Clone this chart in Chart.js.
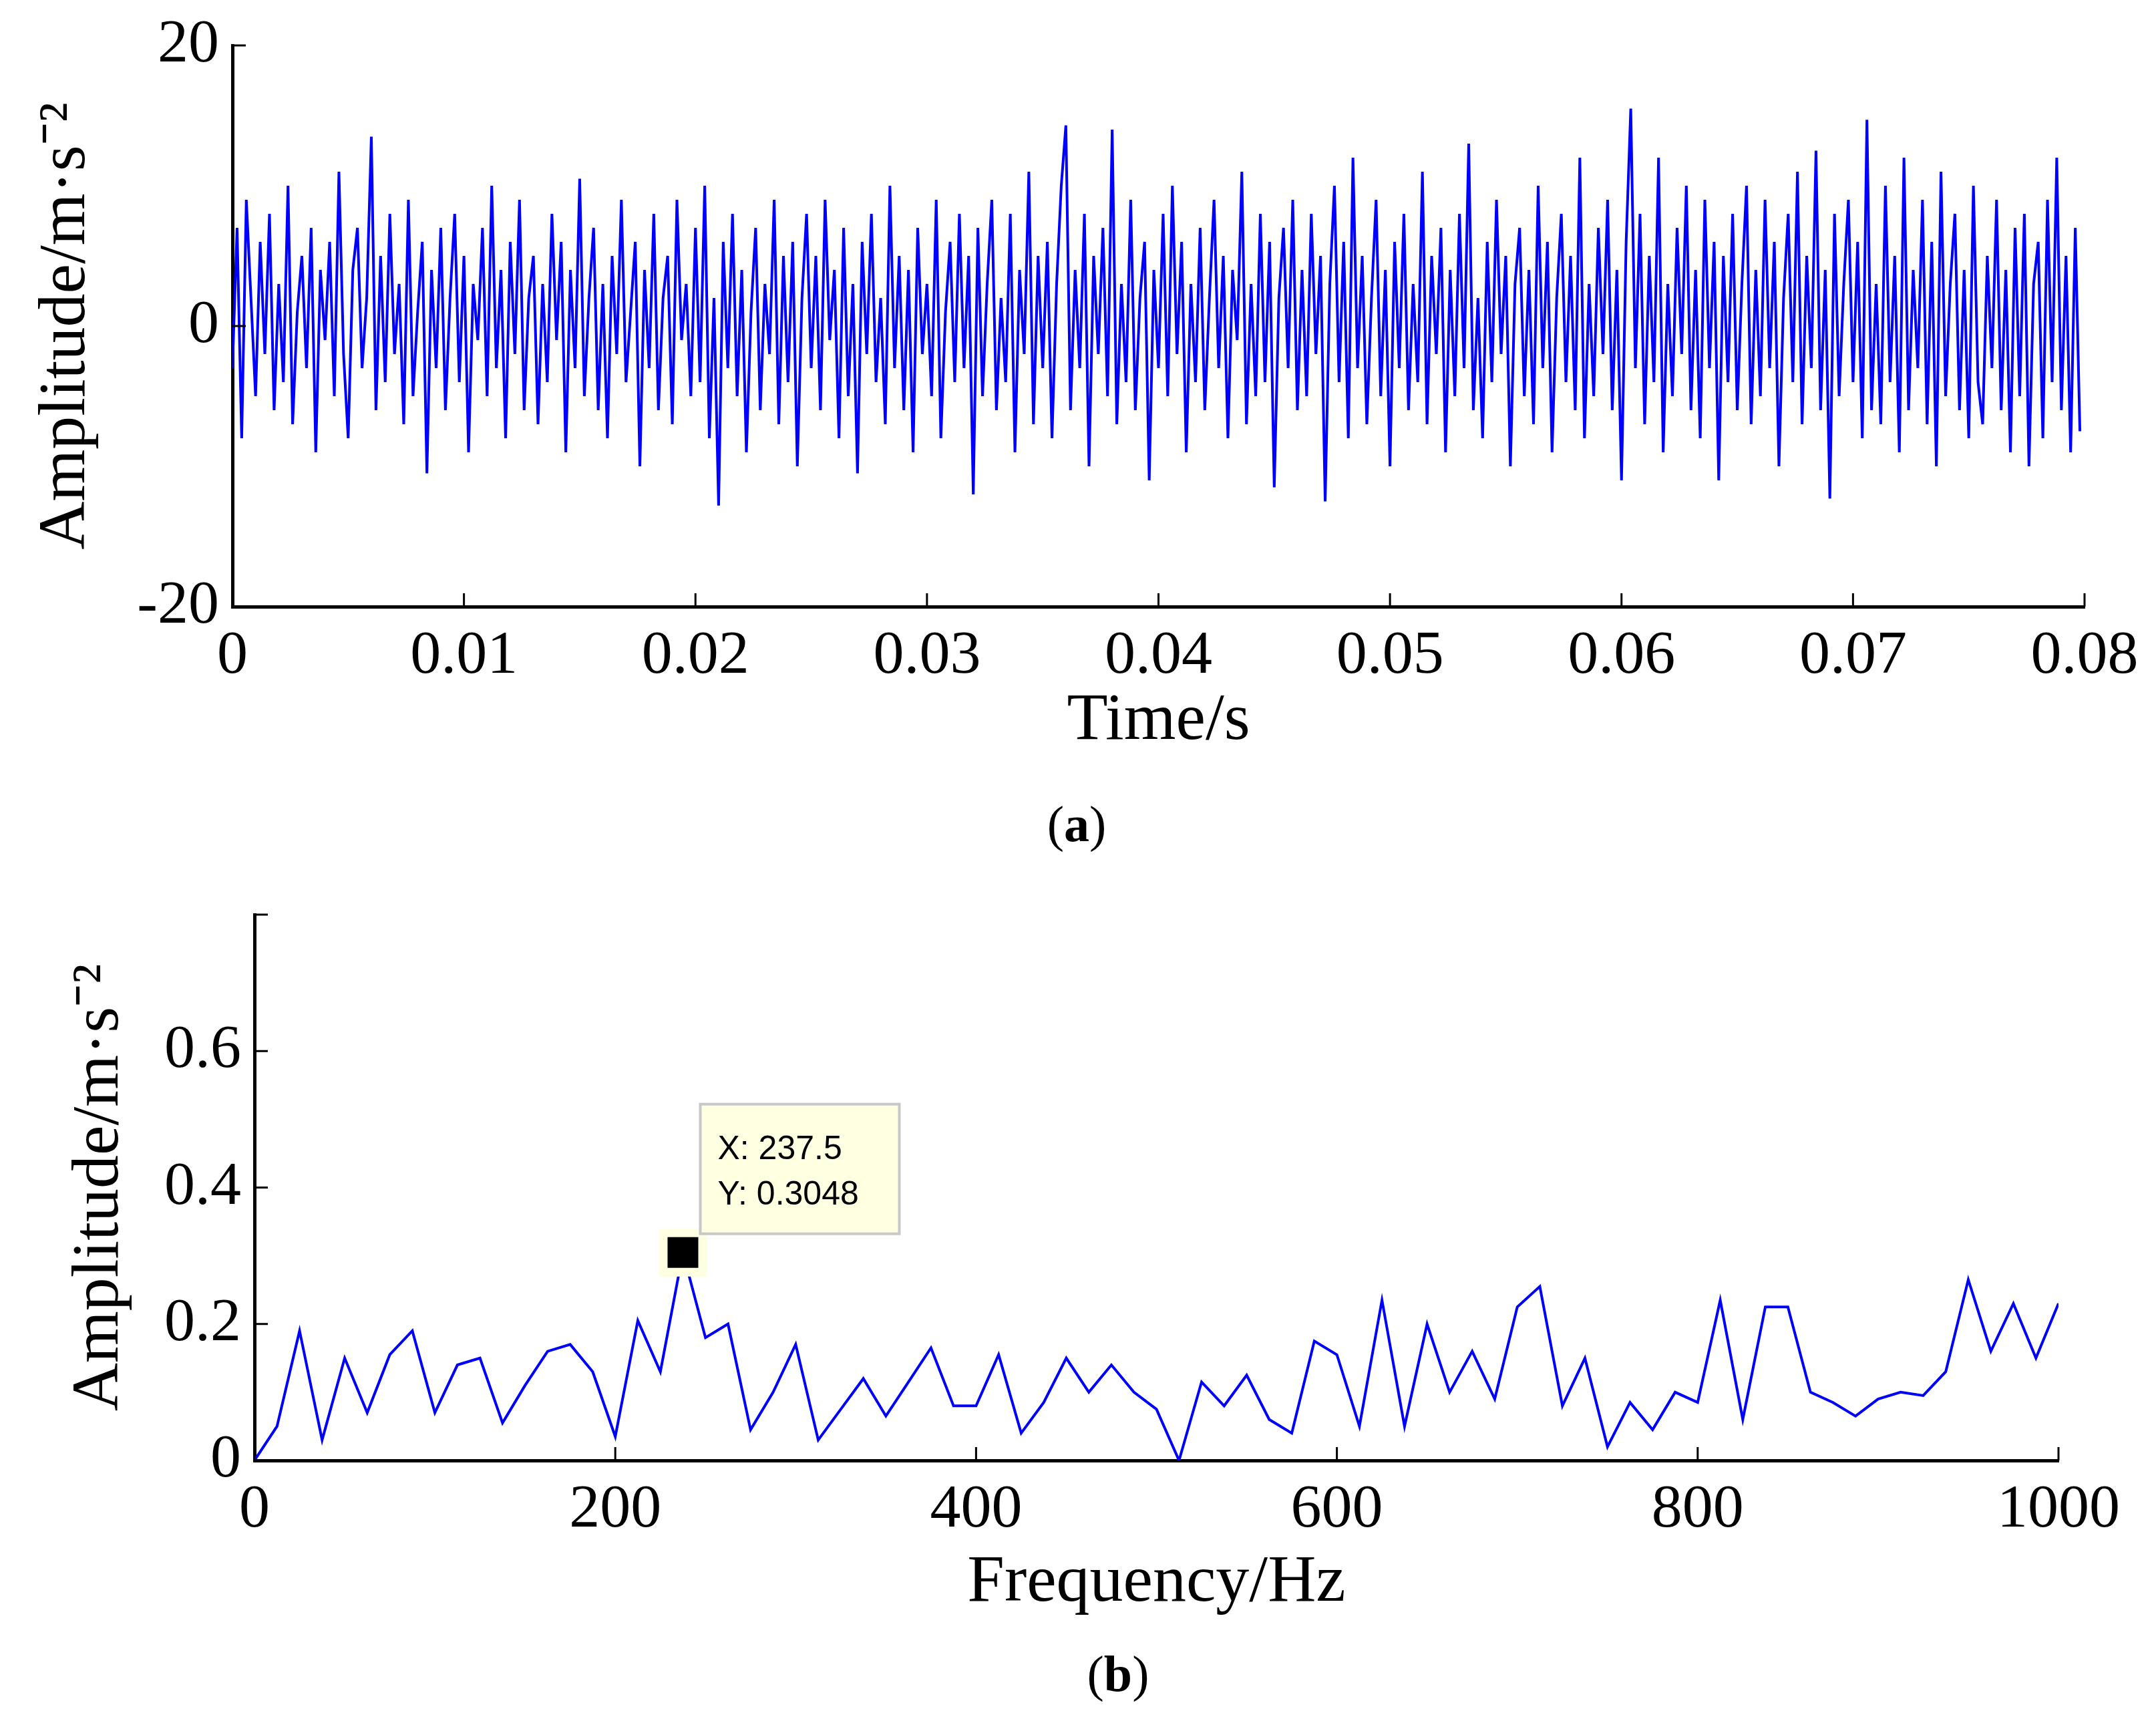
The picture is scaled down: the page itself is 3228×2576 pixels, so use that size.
<!DOCTYPE html>
<html lang="en">
<head>
    <meta charset="UTF-8">
    <title>Vibration signal</title>
    <style>
        body { margin: 0; background: #fff; width: 3228px; height: 2576px; position: relative; overflow: hidden; }
        canvas { position: absolute; left: 0; }
        .cap { position: absolute; font-family: "Liberation Serif", serif; font-size: 76px; width: 3228px; text-align: center; }
    </style>
</head>
<body>
    <canvas id="timeChart" width="3228" height="1140" style="top:0"></canvas>
    <div class="cap" style="top:1190px; left:-2px;">(<b>a</b>)</div>
    <canvas id="freqChart" width="3228" height="1240" style="top:1190px"></canvas>
    <div class="cap" style="top:2462px; left:60px;">(<b>b</b>)</div>

    <script src="https://cdn.jsdelivr.net/npm/chart.js"></script>
    <script>
        // time signal, one sample every 0.0002 s
        const timeStep = 0.0002;
        const timeValues = [
            -3, 7, -8, 9, 2, -5, 6, -2, 8, -6, 3, -4, 10, -7, 1, 5, -3, 7, -9, 4,
            -1, 6, -5, 11, -2, -8, 4, 7, -3, 2, 13.5, -6, 5, -4, 8, -2, 3, -7, 9, -5,
            1, 6, -10.5, 4, -3, 7, -6, 2, 8, -4, 5, -9, 3, -1, 7, -5, 10, -3, 4, -8,
            6, -2, 9, -6, 2, 5, -7, 3, -4, 8, -1, 6, -9, 4, -3, 10.5, -5, 2, 7, -6,
            3, -8, 5, -2, 9, -4, 1, 6, -10, 4, -3, 8, -6, 2, 5, -7, 9, -1, 3, -5,
            7, -4, 10, -8, 2, -12.8, 6, -3, 8, -5, 4, -9, 1, 7, -6, 3, -2, 9, -7, 5,
            -4, 6, -10, 2, 8, -3, 5, -6, 9, -1, 4, -8, 7, -5, 3, -10.5, 6, -2, 8, -4,
            2, -7, 10, -3, 5, -6, 4, -9, 7, -2, 3, -5, 9, -8, 1, 6, -4, 8, -3, 5,
            -12, 7, -5, 3, 9, -6, 2, -4, 8, -9, 4, -2, 11, -7, 5, -3, 6, -8, 3, 10,
            14.3, -6, 4, -3, 8, -10, 5, -2, 7, -5, 14, -7, 3, -4, 9, -6, 2, 6, -11, 4,
            -3, 8, -5, 10, -2, 6, -9, 3, -4, 7, -6, 2, 9, -3, 5, -8, 4, -1, 11, -7,
            3, -5, 8, -4, 6, -11.5, 2, 7, -3, 9, -6, 4, -5, 8, -2, 5, -12.5, 3, 10, -4,
            6, -8, 12, -3, 5, -7, 2, 9, -5, 4, -10, 6, -3, 8, -6, 3, -4, 11, -7, 5,
            -2, 7, -9, 4, -5, 8, -3, 13, -6, 2, -8, 6, -4, 9, -2, 5, -10, 3, 7, -5,
            4, -7, 10, -3, 6, -9, 2, 8, -4, 5, -6, 12, -8, 3, -5, 7, -2, 9, -6, 4,
            -11, 6, 15.5, -3, 8, -7, 5, -4, 12, -9, 3, -5, 7, -2, 10, -6, 4, -8, 9, -3,
            6, -11, 5, -4, 8, -6, 3, 10, -7, 4, -5, 9, -3, 6, -10, 2, 8, -4, 11, -7,
            5, -3, 12.5, -6, 4, -12.3, 8, -5, 3, 9, -4, 6, -8, 14.7, -6, 3, -7, 10, -4, 5,
            -9, 12, -6, 4, -3, 9, -7, 6, -10, 11, -5, 3, 8, -6, 4, -8, 10, -4, -7, 5,
            -3, 9, -6, 4, -9, 7, -5, 8, -10, 3, 6, -8, 9, -4, 12, -6, 5, -9, 7, -7.5
        ];
        const timeYTicks = [-20, 0, 20];

        // amplitude spectrum, bins every 12.5 Hz
        const freqStep = 12.5;
        const freqValues = [
            0, 0.05, 0.19, 0.03, 0.15, 0.07, 0.155, 0.19, 0.07, 0.14,
            0.15, 0.055, 0.11, 0.16, 0.17, 0.13, 0.035, 0.205, 0.13, 0.3048,
            0.18, 0.2, 0.045, 0.1, 0.17, 0.03, 0.075, 0.12, 0.065, 0.115,
            0.165, 0.08, 0.08, 0.155, 0.04, 0.085, 0.15, 0.1, 0.14, 0.1,
            0.075, 0.0, 0.115, 0.08, 0.125, 0.06, 0.04, 0.175, 0.155, 0.05,
            0.235, 0.05, 0.2, 0.1, 0.16, 0.09, 0.225, 0.255, 0.08, 0.15,
            0.02, 0.085, 0.045, 0.1, 0.085, 0.235, 0.06, 0.225, 0.225, 0.1,
            0.085, 0.065, 0.09, 0.1, 0.095, 0.13, 0.265, 0.16, 0.23, 0.15,
            0.23
        ];
        const tipX = 237.5;
        const tipY = 0.3048;

        const serif = 'Liberation Serif';

        // inward tick marks drawn at the scale's own tick positions
        const inwardTicks = {
            id: 'inwardTicks',
            afterDraw(chart) {
                const ctx = chart.ctx;
                const a = chart.chartArea;
                ctx.save();
                ctx.strokeStyle = '#000';
                ctx.lineWidth = 3;
                chart.scales.x.ticks.forEach(t => {
                    const px = chart.scales.x.getPixelForValue(t.value);
                    ctx.beginPath(); ctx.moveTo(px, a.bottom); ctx.lineTo(px, a.bottom - 20); ctx.stroke();
                });
                chart.scales.y.ticks.forEach(t => {
                    const py = chart.scales.y.getPixelForValue(t.value);
                    ctx.beginPath(); ctx.moveTo(a.left, py); ctx.lineTo(a.left + 20, py); ctx.stroke();
                });
                ctx.restore();
            }
        };

        const dataTip = {
            id: 'dataTip',
            afterDraw(chart) {
                if (chart.canvas.id !== 'freqChart') return;
                const ctx = chart.ctx;
                const px = chart.scales.x.getPixelForValue(tipX);
                const py = chart.scales.y.getPixelForValue(tipY);
                ctx.save();
                ctx.fillStyle = '#ffffe1';
                ctx.fillRect(px - 36, py - 36, 72, 72);
                ctx.fillStyle = '#000';
                ctx.fillRect(px - 23, py - 23, 46, 46);
                const bx = px + 26, by = py - 222;
                ctx.fillStyle = '#ffffe1';
                ctx.fillRect(bx, by, 298, 194);
                ctx.strokeStyle = '#c8c8c8';
                ctx.lineWidth = 4;
                ctx.strokeRect(bx, by, 298, 194);
                ctx.fillStyle = '#000';
                ctx.font = '50px "Liberation Sans"';
                ctx.textBaseline = 'middle';
                ctx.fillText('X: ' + tipX, bx + 26, by + 68);
                ctx.fillText('Y: ' + tipY, bx + 26, by + 136);
                ctx.restore();
            }
        };

        function axisOpts(min, max, step, title, fixedSize, fmt, titlePad) {
            return {
                type: 'linear', min: min, max: max,
                border: { color: '#000', width: 5 },
                grid: { display: false },
                ticks: {
                    stepSize: step, color: '#000', padding: 12,
                    font: { family: serif, size: 92 },
                    callback: fmt
                },
                title: { display: true, text: title, color: '#000', font: { family: serif, size: 100 }, padding: { top: titlePad, bottom: 0 } },
                afterFit(s) { if (s.isHorizontal()) s.height = fixedSize; else s.width = fixedSize; }
            };
        }

        new Chart(document.getElementById('timeChart'), {
            type: 'line',
            data: {
                datasets: [{
                    data: timeValues.map((v, i) => ({ x: i * timeStep, y: v })),
                    borderColor: '#0000ff', borderWidth: 4, pointRadius: 0, tension: 0
                }]
            },
            options: {
                responsive: false, animation: false,
                layout: { padding: { top: 68, right: 107, left: 40, bottom: 0 } },
                plugins: { legend: { display: false }, tooltip: { enabled: false } },
                scales: {
                    x: axisOpts(0, 0.08, 0.01, 'Time/s', 232, v => v === 0 ? '0' : v.toFixed(2), 40),
                    y: Object.assign(axisOpts(-20, 20, 20, 'Amplitude/m·s⁻²', 308, v => String(v), 0), {
                        afterBuildTicks(s) { s.ticks = timeYTicks.map(v => ({ value: v })); }
                    })
                }
            },
            plugins: [inwardTicks]
        });

        new Chart(document.getElementById('freqChart'), {
            type: 'line',
            data: {
                datasets: [{
                    data: freqValues.map((v, i) => ({ x: i * freqStep, y: v })),
                    borderColor: '#0000ff', borderWidth: 4, pointRadius: 0, tension: 0
                }]
            },
            options: {
                responsive: false, animation: false,
                layout: { padding: { top: 179, right: 146, left: 90, bottom: 0 } },
                plugins: { legend: { display: false }, tooltip: { enabled: false } },
                scales: {
                    x: axisOpts(0, 1000, 200, 'Frequency/Hz', 244, v => String(v), 20),
                    y: axisOpts(0, 0.8, 0.2, 'Amplitude/m·s⁻²', 291, v => v === 0 ? '0' : (v > 0.7 ? '' : v.toFixed(1)), 0)
                }
            },
            plugins: [inwardTicks, dataTip]
        });
    </script>
</body>
</html>
